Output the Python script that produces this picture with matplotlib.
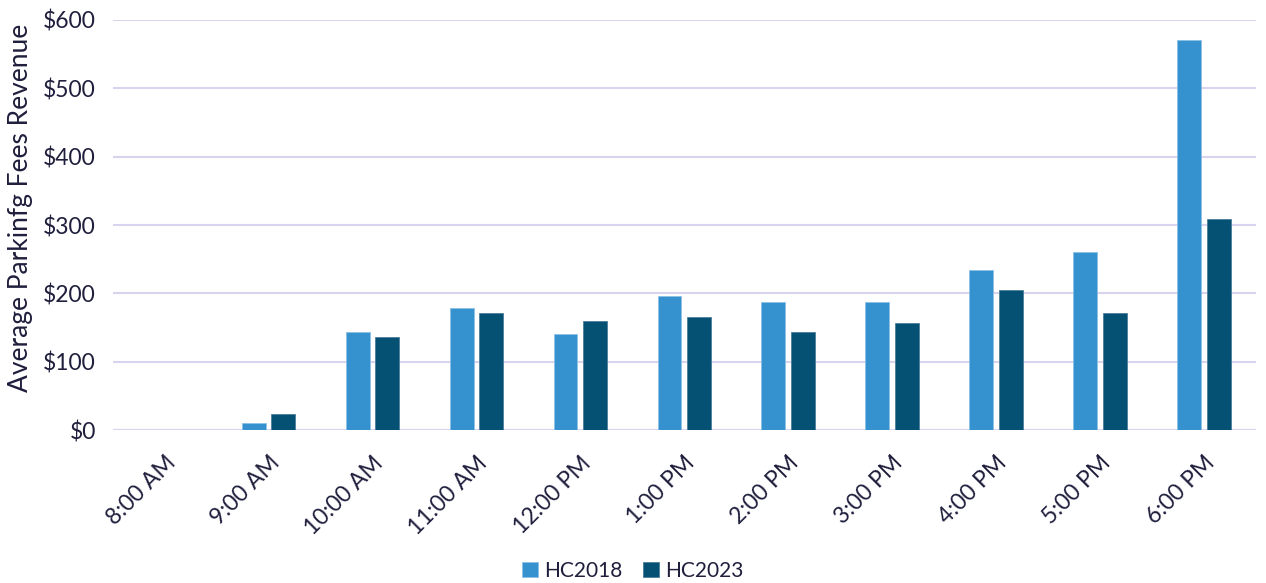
import numpy as np
import matplotlib.pyplot as plt
from matplotlib.ticker import FuncFormatter

# hourly categories and average revenue per year
hours = ['8:00 AM', '9:00 AM', '10:00 AM', '11:00 AM', '12:00 PM', '1:00 PM',
         '2:00 PM', '3:00 PM', '4:00 PM', '5:00 PM', '6:00 PM']
hc2018 = [0, 10, 143, 179, 141, 196, 187, 187, 234, 260, 571]
hc2023 = [0, 23, 136, 171, 159, 165, 144, 157, 205, 171, 309]

text_color = '#1f1f3d'
grid_color = '#d9d3ef'
plt.rcParams['font.family'] = ['Lato', 'DejaVu Sans']

fig = plt.figure(figsize=(12.66, 5.83), dpi=100)
ax = fig.add_axes([0.089, 0.2624, 0.903, 0.7033])

x = np.arange(len(hours))
w = 0.23
ax.bar(x - 0.1425, hc2018, width=w, color='#3592cf', edgecolor='#8cc0e6',
       linewidth=0.6, label='HC2018', zorder=3)
ax.bar(x + 0.1425, hc2023, width=w, color='#045174', edgecolor='#4d7f99',
       linewidth=0.6, label='HC2023', zorder=3)

ax.set_xlim(-0.5, len(hours) - 0.5)
ax.set_ylim(0, 600)
ax.set_yticks(range(0, 601, 100))
ax.yaxis.set_major_formatter(FuncFormatter(lambda v, p: f'${v:.0f}'))
ax.grid(axis='y', color=grid_color, linewidth=1.5, zorder=0)
ax.set_axisbelow(True)
for s in ax.spines.values():
    s.set_visible(False)
ax.axhline(0, color=grid_color, linewidth=1.5, zorder=1)

ax.set_xticks(x)
ax.set_xticklabels(hours, rotation=45, ha='right', rotation_mode='anchor')
ax.tick_params(axis='both', length=0, colors=text_color, labelsize=16.5)
ax.tick_params(axis='x', pad=16)
ax.tick_params(axis='y', pad=12)

ax.set_ylabel('Average Parkinfg Fees Revenue', fontsize=19, color=text_color)
ax.yaxis.set_label_coords(-0.07, 0.543)

leg = fig.legend(loc='lower center', bbox_to_anchor=(0.5, -0.028), ncol=2,
                 frameon=False, fontsize=15, handlelength=0.75,
                 handleheight=0.75, handletextpad=0.3, columnspacing=1.0)
for t in leg.get_texts():
    t.set_color(text_color)

fig.savefig('out.png', dpi=100)
